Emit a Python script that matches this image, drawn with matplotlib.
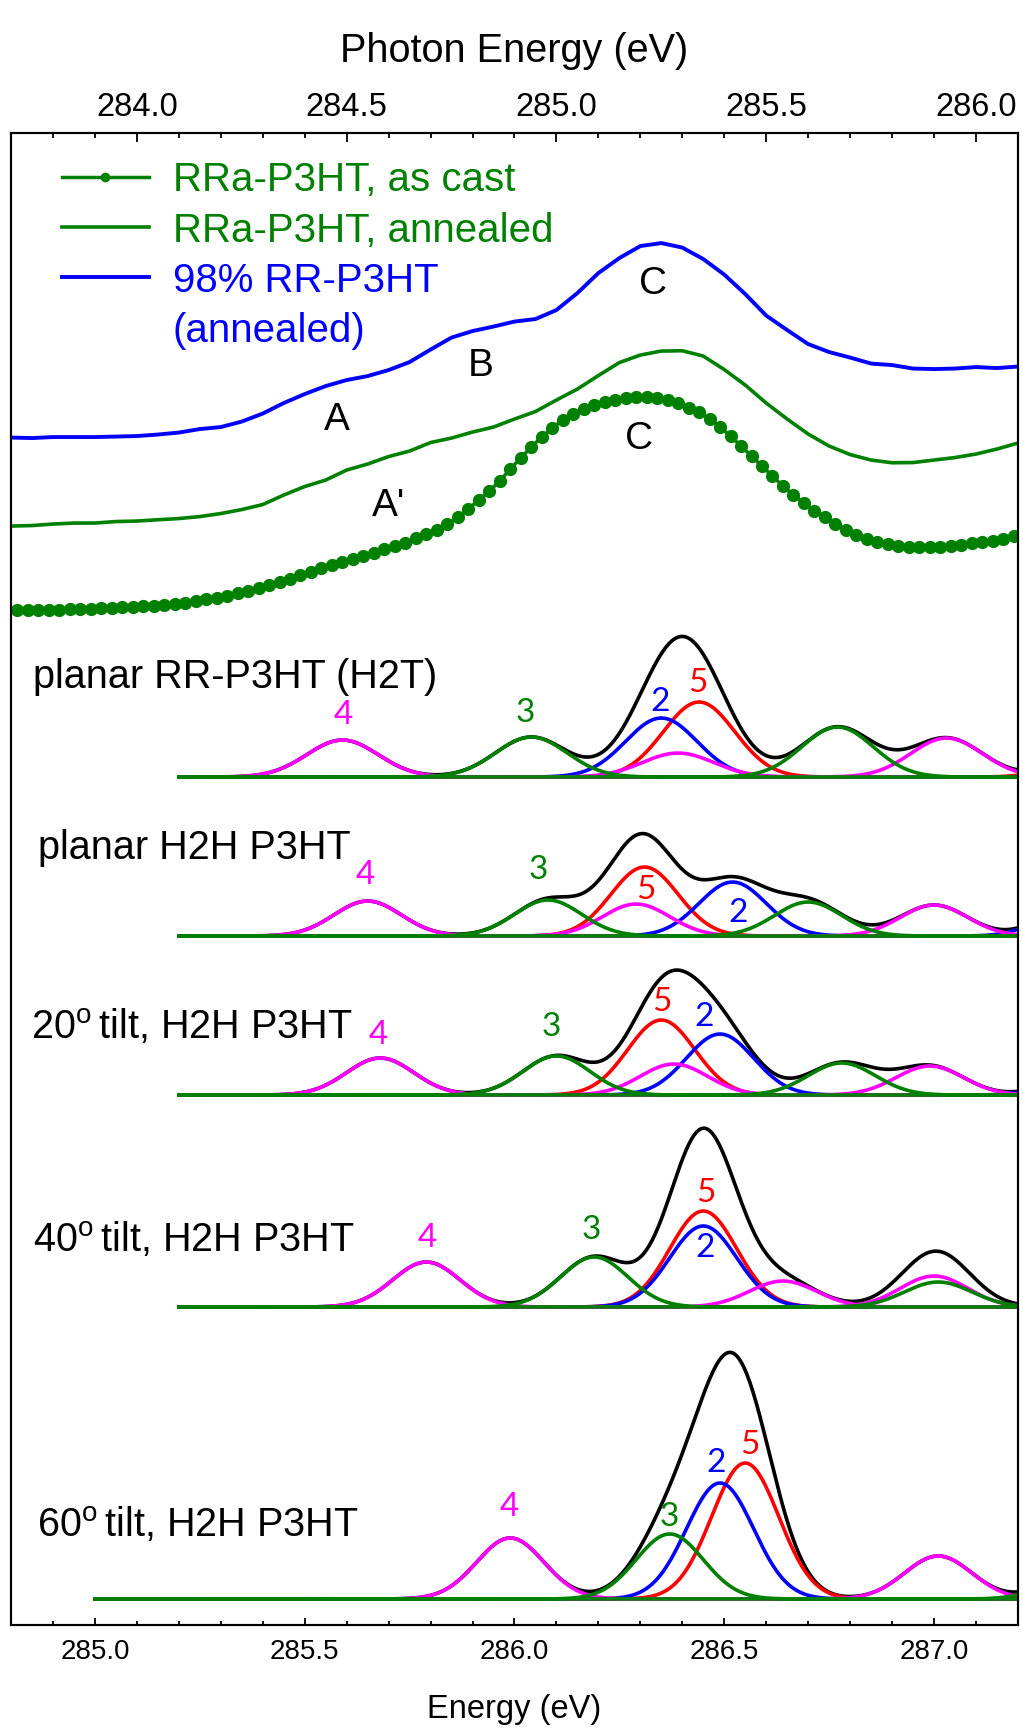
import numpy as np
import matplotlib
matplotlib.use('Agg')
from matplotlib import pyplot as plt
from matplotlib.lines import Line2D
from matplotlib.ticker import MultipleLocator

plt.rcParams['font.family'] = ['Liberation Sans', 'DejaVu Sans']
plt.rcParams['mathtext.fontset'] = 'custom'
plt.rcParams['mathtext.rm'] = 'Liberation Sans'

GREEN = '#008000'
BLUE = '#0000ff'
RED = '#ff0000'
MAGENTA = '#ff00ff'
colors = {'b': BLUE, 'g': GREEN, 'm': MAGENTA, 'r': RED}

# measured NEXAFS spectra, photon energy (eV) on the top axis
e_cast = np.round(283.715 + 0.025 * np.arange(96), 3)
i_cast = [1.6, 1.8, 2.0, 2.2, 2.4, 2.7, 3.0, 3.4, 3.8, 4.2, 4.7, 5.2, 5.8, 6.5, 7.3, 8.3,
          9.5, 11.0, 12.7, 14.5, 16.5, 19.0, 21.5, 24.0, 27.0, 30.0, 33.5, 37.0, 40.5, 44.0,
          47.0, 50.0, 52.7, 56.0, 59.5, 63.0, 66.0, 69.5, 74.0, 78.5, 82.5, 88.0, 95.0, 103.0,
          112.0, 121.0, 131.0, 143.0, 154.0, 165.0, 175.0, 184.0, 192.0, 198.0, 203.0, 207.0,
          210.0, 212.5, 214.5, 215.0, 215.0, 214.0, 212.0, 209.0, 204.5, 200.0, 193.5, 185.0,
          176.0, 166.0, 156.0, 146.0, 136.0, 126.0, 117.0, 109.0, 101.0, 95.0, 88.0, 82.0,
          77.0, 73.0, 70.0, 68.0, 66.5, 65.5, 65.0, 65.0, 65.5, 66.5, 67.5, 69.0, 70.0, 71.5,
          73.0, 76.0]

e_scan = np.round(283.70 + 0.05 * np.arange(49), 2)
i_annealed = [4, 4.5, 6, 7, 7, 8.5, 9, 10.3, 11.5, 13.5, 16.5, 20.5, 25.5, 35, 43.5, 50,
              60, 66, 73.5, 79, 87.5, 92, 98, 103, 111, 118.5, 130, 141, 154.5, 167.5, 175,
              179, 179.3, 174, 160.5, 145, 127, 111, 96, 84, 75.5, 70, 67.3, 67.5, 70, 72.5,
              76, 81, 87]
i_rr = [2.5, 2, 3, 3, 3, 3.5, 4, 5.5, 7.5, 11, 13, 18.5, 26.5, 37, 46, 54, 60, 64, 70,
        78, 90.5, 102.5, 109, 113.5, 118.5, 121, 130, 147, 167, 182, 194, 197, 192.5, 181,
        165.5, 146, 124.5, 110, 96, 88, 82.5, 76.5, 75, 71.5, 71, 71.5, 73, 72, 73.5]

off_cast, off_annealed, off_rr = 1013, 1095, 1185

feature_labels = ['A', 'B', 'C', "A'", 'C']
feature_e = [284.476, 284.819, 285.231, 284.600, 285.198]
feature_y = [1205, 1259, 1341, 1119, 1186]

# calculated spectra: gaussian components for each conformation
panel_titles = ['planar RR-P3HT (H2T)', 'planar H2H P3HT',
                r'20$^\mathregular{o}\,$tilt, H2H P3HT',
                r'40$^\mathregular{o}\,$tilt, H2H P3HT',
                r'60$^\mathregular{o}\,$tilt, H2H P3HT']
panel_offset = [848, 689, 530, 318, 26]
panel_start = [285.2, 285.2, 285.2, 285.2, 285.0]
panel_sigma = [0.085, 0.08, 0.08, 0.08, 0.08]
title_pos = [(284.852, 948), (284.864, 777), (284.848, 598), (284.852, 385), (284.862, 100)]

p1_center = [285.59, 286.04, 286.35, 286.44, 286.39, 286.77, 287.03, 287.40]
p1_height = [37, 40, 59, 75, 24, 50, 39, 30]
p1_color = ['m', 'g', 'b', 'r', 'm', 'g', 'm', 'r']

p2_center = [285.65, 286.08, 286.31, 286.29, 286.52, 286.70, 287.00, 287.35]
p2_height = [35, 36, 69, 32, 54, 34, 31, 40]
p2_color = ['m', 'g', 'r', 'm', 'b', 'g', 'm', 'b']

p3_center = [285.68, 286.10, 286.35, 286.38, 286.49, 286.78, 286.99, 287.38]
p3_height = [37, 39, 75, 31, 61, 32, 29, 35]
p3_color = ['m', 'g', 'r', 'm', 'b', 'g', 'm', 'b']

p4_center = [285.79, 286.19, 286.45, 286.45, 286.64, 287.00, 287.01, 287.45]
p4_height = [45, 50, 96, 81, 26, 31, 25, 30]
p4_color = ['m', 'g', 'r', 'b', 'm', 'm', 'g', 'r']

p5_center = [285.99, 286.37, 286.49, 286.55, 287.01, 287.35, 287.45]
p5_height = [61, 65, 116, 136, 43, 25, 30]
p5_color = ['m', 'g', 'b', 'r', 'm', 'g', 'r']

panels = [(p1_center, p1_height, p1_color), (p2_center, p2_height, p2_color),
          (p3_center, p3_height, p3_color), (p4_center, p4_height, p4_color),
          (p5_center, p5_height, p5_color)]

# peak numbers: (text, colour, energy, height)
p1_tags = [('4', 'm', 285.593, 910), ('3', 'g', 286.026, 912), ('2', 'b', 286.348, 923), ('5', 'r', 286.436, 942)]
p2_tags = [('4', 'm', 285.645, 750), ('3', 'g', 286.057, 755), ('5', 'r', 286.314, 735), ('2', 'b', 286.533, 712)]
p3_tags = [('4', 'm', 285.676, 590), ('3', 'g', 286.088, 598), ('5', 'r', 286.352, 623), ('2', 'b', 286.452, 608)]
p4_tags = [('4', 'm', 285.793, 387), ('3', 'g', 286.183, 395), ('5', 'r', 286.455, 432), ('2', 'b', 286.455, 377)]
p5_tags = [('4', 'm', 285.988, 118), ('3', 'g', 286.369, 108), ('2', 'b', 286.481, 162), ('5', 'r', 286.560, 180)]
tags = p1_tags + p2_tags + p3_tags + p4_tags + p5_tags


def gauss(e, c, h, s):
    return h * np.exp(-0.5 * ((e - c) / s) ** 2)


fig = plt.figure(figsize=(10.23, 17.35), dpi=100)
ax = fig.add_axes([0.01075, 0.0634, 0.9843, 0.8599])
ax.set_xlim(284.8, 287.2)
ax.set_ylim(0, 1492)

for k in range(5):
    centers, heights, cols = panels[k]
    e = np.linspace(panel_start[k], 287.2, 600)
    comps = [gauss(e, c, h, panel_sigma[k]) for c, h in zip(centers, heights)]
    base = panel_offset[k]
    ax.plot(e, base + np.sum(comps, axis=0), color='black', lw=2.6, zorder=2)
    # draw red, blue, magenta, then green on top
    for key in ['r', 'b', 'm', 'g']:
        for comp, col in zip(comps, cols):
            if col == key:
                ax.plot(e, base + comp, color=colors[key], lw=2.6, zorder=3)
    ax.text(title_pos[k][0], title_pos[k][1], panel_titles[k], fontsize=28.5,
            ha='left', va='center')

for txt, col, e, y in tags:
    ax.text(e, y, txt, color=colors[col], fontsize=24, family=['Lato', 'DejaVu Sans'],
            ha='center', va='center')

ax.xaxis.set_major_locator(MultipleLocator(0.5))
ax.xaxis.set_minor_locator(MultipleLocator(0.1))
ax.tick_params(axis='x', which='major', direction='in', length=5, width=1.3,
               labelsize=20, pad=10, top=False)
ax.tick_params(axis='x', which='minor', direction='in', length=3, width=1.3, top=False)
ax.tick_params(axis='y', left=False, labelleft=False)
ax.set_xticks([285.0, 285.5, 286.0, 286.5, 287.0])
ax.set_xticklabels(['285.0', '285.5', '286.0', '286.5', '287.0'])
ax.set_xlabel('Energy (eV)', fontsize=23.5, labelpad=21)

# top axis: photon energy of the measured spectra
ax2 = ax.twiny()
ax2.set_xlim(283.7, 286.1)
ax2.set_ylim(0, 1492)
ax2.plot(e_cast, off_cast + np.array(i_cast), color=GREEN, lw=2.5, marker='o', ms=8.5,
         label='RRa-P3HT, as cast')
ax2.plot(e_scan, off_annealed + np.array(i_annealed), color=GREEN, lw=2.6,
         label='RRa-P3HT, annealed')
ax2.plot(e_scan, off_rr + np.array(i_rr), color=BLUE, lw=2.8, label='98% RR-P3HT')
for txt, e, y in zip(feature_labels, feature_e, feature_y):
    ax2.text(e, y, txt, fontsize=28, ha='center', va='center')

ax2.xaxis.set_major_locator(MultipleLocator(0.5))
ax2.xaxis.set_minor_locator(MultipleLocator(0.1))
ax2.tick_params(axis='x', which='major', direction='in', length=6.5, width=1.3,
                labelsize=23.5, pad=7)
ax2.tick_params(axis='x', which='minor', direction='in', length=3.6, width=1.3)
ax2.set_xticks([284.0, 284.5, 285.0, 285.5, 286.0])
ax2.set_xticklabels(['284.0', '284.5', '285.0', '285.5', '286.0'])
ax2.tick_params(axis='y', right=False, labelright=False)
ax2.set_xlabel('Photon Energy (eV)', fontsize=28.5, labelpad=22)

for a in (ax, ax2):
    for sp in a.spines.values():
        sp.set_linewidth(1.5)

handles, labels = ax2.get_legend_handles_labels()
handles.append(Line2D([], [], color='none'))
labels.append('(annealed)')
leg = ax2.legend(handles, labels, loc='upper left', bbox_to_anchor=(0.0506, 0.981),
                 frameon=False, fontsize=29, borderpad=0, borderaxespad=0,
                 handlelength=2.15, handletextpad=0.6, labelspacing=0.3,
                 labelcolor=[GREEN, GREEN, BLUE, BLUE], markerscale=0.7)

fig.savefig('out.png', dpi=100)
